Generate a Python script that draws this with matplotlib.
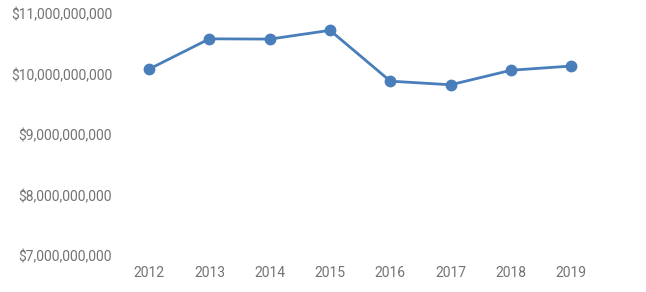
import matplotlib.pyplot as plt
from matplotlib.ticker import FuncFormatter

anios = ['2012', '2013', '2014', '2015', '2016', '2017', '2018', '2019']
valores = [10.09e9, 10.59e9, 10.585e9, 10.73e9, 9.89e9, 9.83e9, 10.07e9, 10.14e9]

plt.rcParams['font.family'] = ['Roboto', 'DejaVu Sans']

fig = plt.figure(figsize=(6.46, 2.92), dpi=100)
ax = fig.add_axes([119 / 646, 36 / 292, 527 / 646, 242 / 292])

posiciones = range(len(anios))
ax.plot(posiciones, valores, color='#4A7EBB', linewidth=2, marker='o', markersize=7.5)

ax.set_xlim(-0.5, 8.24)
ax.set_ylim(7e9, 11e9)
ax.set_yticks([7e9, 8e9, 9e9, 10e9, 11e9])
ax.yaxis.set_major_formatter(FuncFormatter(lambda v, p: f'${v:,.0f}'))
ax.set_xticks(list(posiciones))
ax.set_xticklabels(anios)

for s in ax.spines.values():
    s.set_visible(False)
ax.tick_params(length=0, labelsize=10, colors='#737373')
ax.tick_params(axis='y', pad=5)
ax.tick_params(axis='x', pad=7)

fig.savefig('out.png', dpi=100)
